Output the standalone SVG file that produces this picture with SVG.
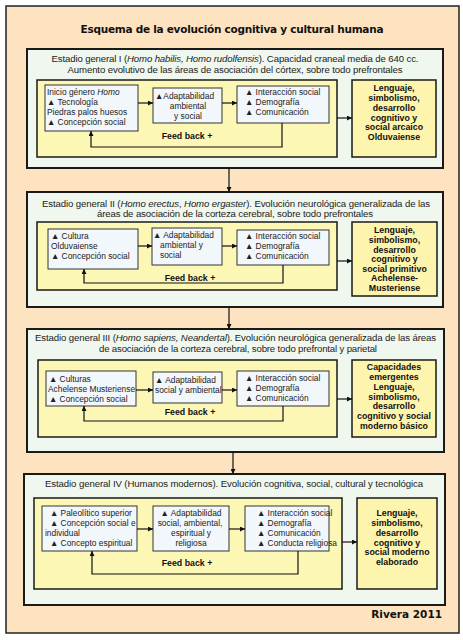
<svg xmlns="http://www.w3.org/2000/svg" width="463" height="640" viewBox="0 0 463 640">
<defs>
<marker id="ah" viewBox="0 0 10 10" refX="10" refY="5" markerWidth="5" markerHeight="5" orient="auto" markerUnits="userSpaceOnUse">
<path d="M0,0 L10,5 L0,10 z" fill="#111"/>
</marker>
<style>
.bg{fill:#fde3c0;stroke:#222;stroke-width:1.5}
.stage{fill:#eff7ee;stroke:#1a1a1a;stroke-width:2}
.yel{fill:#fdf7b6;stroke:#1a1a1a;stroke-width:1.5}
.res{fill:#fdf4ad;stroke:#1a1a1a;stroke-width:1.5}
.box{fill:#f2f7fb;stroke:#333;stroke-width:1}
.t{font-family:"Liberation Sans",Arial,sans-serif;font-size:8.4px;fill:#222}
.h{font-family:"Liberation Sans",Arial,sans-serif;font-size:9.6px;fill:#222}
.b{font-family:"Liberation Sans",Arial,sans-serif;font-size:8.8px;fill:#111;font-weight:bold}
.r{font-family:"Liberation Sans",Arial,sans-serif;font-size:8.8px;fill:#111;font-weight:bold;text-anchor:middle}
.c{text-anchor:middle}
.ttl{font-family:"DejaVu Sans",Verdana,sans-serif;font-size:10.5px;font-weight:bold;fill:#111}
.ln{fill:none;stroke:#111;stroke-width:1.2}
</style>
</defs>
<rect x="0" y="0" width="463" height="640" fill="#ffffff"/>
<rect class="bg" x="6" y="6" width="453" height="627"/>
<text class="ttl c" x="232" y="33" textLength="303">Esquema de la evolución cognitiva y cultural humana</text>

<g id="stage1">
<rect class="stage" x="27" y="49" width="416" height="119"/>
<text class="h c" x="235" y="62" textLength="367">Estadio general I (<tspan font-style="italic">Homo habilis, Homo rudolfensis</tspan>). Capacidad craneal media de 640 cc.</text>
<text class="h c" x="235" y="73" textLength="335">Aumento evolutivo de las áreas de asociación del córtex, sobre todo prefrontales</text>
<rect class="yel" x="37" y="80" width="300" height="77"/>
</g>
<g id="s1a">
<rect class="box" x="45" y="85" width="93" height="46"/>
<text class="t" x="47" y="95">Inicio género <tspan font-style="italic">Homo</tspan></text>
<text class="t" x="47" y="105">▲ Tecnología</text>
<text class="t" x="47" y="115">Piedras palos  huesos</text>
<text class="t" x="47" y="125">▲ Concepción social</text>
</g>
<g id="s1b">
<rect class="box" x="153" y="88" width="69" height="35"/>
<text class="t" x="155" y="99">▲Adaptabilidad</text>
<text class="t c" x="188" y="109">ambiental</text>
<text class="t c" x="188" y="119">y social</text>
</g>
<g id="s1c">
<rect class="box" x="237" y="86" width="92" height="37"/>
<text class="t" x="245" y="95">▲ Interacción social</text>
<text class="t" x="245" y="105">▲ Demografía</text>
<text class="t" x="245" y="115">▲ Comunicación</text>
</g>
<g id="s1r">
<rect class="res" x="352" y="80" width="84" height="77"/>
<text class="r" x="394" y="91">Lenguaje,</text>
<text class="r" x="394" y="101">simbolismo,</text>
<text class="r" x="394" y="111">desarrollo</text>
<text class="r" x="394" y="120.5">cognitivo y</text>
<text class="r" x="394" y="130">social arcaico</text>
<text class="r" x="394" y="140">Olduvaiense</text>
</g>

<g id="stage2">
<rect class="stage" x="27" y="192" width="416" height="115"/>
<text class="h c" x="236" y="207" textLength="388">Estadio general II (<tspan font-style="italic">Homo erectus</tspan>, <tspan font-style="italic">Homo ergaster</tspan>). Evolución neurológica generalizada de las</text>
<text class="h c" x="235" y="217" textLength="276">áreas de asociación de la corteza cerebral, sobre todo prefrontales</text>
<rect class="yel" x="37" y="222" width="300" height="68"/>
</g>
<g id="s2a">
<rect class="box" x="48" y="229" width="90" height="40"/>
<text class="t" x="51" y="239">▲ Cultura</text>
<text class="t" x="51" y="249">Olduvaiense</text>
<text class="t" x="51" y="258.5">▲ Concepción social</text>
</g>
<g id="s2b">
<rect class="box" x="152" y="228" width="70" height="37"/>
<text class="t" x="153" y="238">▲ Adaptabilidad</text>
<text class="t" x="160" y="248">ambiental  y</text>
<text class="t" x="160" y="257.5">social</text>
</g>
<g id="s2c">
<rect class="box" x="237" y="230" width="92" height="35"/>
<text class="t" x="245" y="239">▲ Interacción social</text>
<text class="t" x="245" y="249">▲ Demografía</text>
<text class="t" x="245" y="258.5">▲ Comunicación</text>
</g>
<g id="s2r">
<rect class="res" x="352" y="222" width="85" height="74"/>
<text class="r" x="394.5" y="233">Lenguaje,</text>
<text class="r" x="394.5" y="242.5">simbolismo,</text>
<text class="r" x="394.5" y="252.5">desarrollo</text>
<text class="r" x="394.5" y="262">cognitivo  y</text>
<text class="r" x="394.5" y="271.5">social primitivo</text>
<text class="r" x="394.5" y="281">Achelense-</text>
<text class="r" x="394.5" y="290.5">Musteriense</text>
</g>

<g id="stage3">
<rect class="stage" x="27" y="329" width="417" height="123"/>
<text class="h c" x="235.5" y="341" textLength="401">Estadio general III (<tspan font-style="italic">Homo sapiens, Neandertal</tspan>). Evolución neurológica generalizada de las áreas</text>
<text class="h c" x="238" y="352" textLength="278">de asociación de la corteza cerebral, sobre todo prefrontal y parietal</text>
<rect class="yel" x="38" y="360" width="299" height="77"/>
</g>
<g id="s3a">
<rect class="box" x="46" y="371" width="90" height="35"/>
<text class="t" x="49" y="382">▲ Culturas</text>
<text class="t" x="48" y="391.5">Achelense Musteriense</text>
<text class="t" x="49" y="401.5">▲ Concepción social</text>
</g>
<g id="s3b">
<rect class="box" x="153" y="372" width="69" height="31"/>
<text class="t" x="155" y="383">▲ Adaptabilidad</text>
<text class="t" x="155" y="392.5">social y ambiental</text>
</g>
<g id="s3c">
<rect class="box" x="237" y="371" width="92" height="35"/>
<text class="t" x="245" y="381">▲ Interacción social</text>
<text class="t" x="245" y="391">▲ Demografía</text>
<text class="t" x="245" y="400.5">▲ Comunicación</text>
</g>
<g id="s3r">
<rect class="res" x="352" y="360" width="84" height="77"/>
<text class="r" x="394" y="370">Capacidades</text>
<text class="r" x="394" y="380">emergentes</text>
<text class="r" x="394" y="390">Lenguaje,</text>
<text class="r" x="394" y="399.5">simbolismo,</text>
<text class="r" x="394" y="409">desarrollo</text>
<text class="r" x="394" y="419">cognitivo y social</text>
<text class="r" x="394" y="428.5">moderno básico</text>
</g>

<g id="stage4">
<rect class="stage" x="24" y="474" width="421" height="131"/>
<text class="h c" x="234" y="487" textLength="378">Estadio general IV (Humanos modernos). Evolución cognitiva, social, cultural y tecnológica</text>
<rect class="yel" x="34" y="498" width="308" height="91"/>
</g>
<g id="s4a">
<rect class="box" x="42" y="506" width="95" height="45"/>
<text class="t" x="50" y="516">▲ Paleolítico superior</text>
<text class="t" x="50" y="526">▲ Concepción social e</text>
<text class="t" x="45" y="535.5">individual</text>
<text class="t" x="50" y="545.5">▲ Concepto espiritual</text>
</g>
<g id="s4b">
<rect class="box" x="153" y="506" width="76" height="45"/>
<text class="t c" x="191" y="516">▲  Adaptabilidad</text>
<text class="t c" x="190" y="526">social, ambiental,</text>
<text class="t c" x="191" y="535.5">espiritual y</text>
<text class="t c" x="191" y="545.5">religiosa</text>
</g>
<g id="s4c">
<rect class="box" x="245" y="506" width="84" height="45"/>
<text class="t" x="257" y="516">▲ Interacción social</text>
<text class="t" x="257" y="526">▲ Demografía</text>
<text class="t" x="257" y="535.5">▲ Comunicación</text>
<text class="t" x="257" y="545.5">▲ Conducta religiosa</text>
</g>
<g id="s4r">
<rect class="res" x="357" y="498" width="80" height="91"/>
<text class="r" x="397" y="516">Lenguaje,</text>
<text class="r" x="397" y="526">simbolismo,</text>
<text class="r" x="397" y="535.5">desarrollo</text>
<text class="r" x="397" y="545.5">cognitivo y</text>
<text class="r" x="397" y="555">social moderno</text>
<text class="r" x="397" y="564.5">elaborado</text>
</g>

<g id="connectors">
<line class="ln" x1="138" y1="103" x2="153" y2="103" marker-end="url(#ah)"/>
<line class="ln" x1="222" y1="103" x2="237" y2="103" marker-end="url(#ah)"/>
<polyline class="ln" points="282,123 282,147 91,147 91,131" marker-end="url(#ah)"/>
<line class="ln" x1="337" y1="118" x2="352" y2="118" marker-end="url(#ah)"/>
<line class="ln" x1="229" y1="168" x2="229" y2="192" marker-end="url(#ah)"/>

<line class="ln" x1="138" y1="246" x2="152" y2="246" marker-end="url(#ah)"/>
<line class="ln" x1="222" y1="246" x2="237" y2="246" marker-end="url(#ah)"/>
<polyline class="ln" points="283,265 283,283 84,283 84,269" marker-end="url(#ah)"/>
<line class="ln" x1="337" y1="261" x2="352" y2="261" marker-end="url(#ah)"/>
<line class="ln" x1="229" y1="307" x2="229" y2="329" marker-end="url(#ah)"/>

<line class="ln" x1="136" y1="390" x2="153" y2="390" marker-end="url(#ah)"/>
<line class="ln" x1="222" y1="390" x2="237" y2="390" marker-end="url(#ah)"/>
<polyline class="ln" points="283,406 283,421 84,421 84,406" marker-end="url(#ah)"/>
<line class="ln" x1="337" y1="399" x2="352" y2="399" marker-end="url(#ah)"/>
<line class="ln" x1="233" y1="452" x2="233" y2="474" marker-end="url(#ah)"/>

<line class="ln" x1="137" y1="529" x2="153" y2="529" marker-end="url(#ah)"/>
<line class="ln" x1="229" y1="529" x2="245" y2="529" marker-end="url(#ah)"/>
<polyline class="ln" points="298,551 298,574 92,574 92,551" marker-end="url(#ah)"/>
<line class="ln" x1="342" y1="542" x2="357" y2="542" marker-end="url(#ah)"/>

<text class="b c" x="187" y="139">Feed back +</text>
<text class="b c" x="190" y="281">Feed back +</text>
<text class="b c" x="190" y="415">Feed back +</text>
<text class="b c" x="187" y="566">Feed back +</text>
</g>
<text class="ttl" x="442" y="618" text-anchor="end" font-size="10">Rivera 2011</text>
</svg>
